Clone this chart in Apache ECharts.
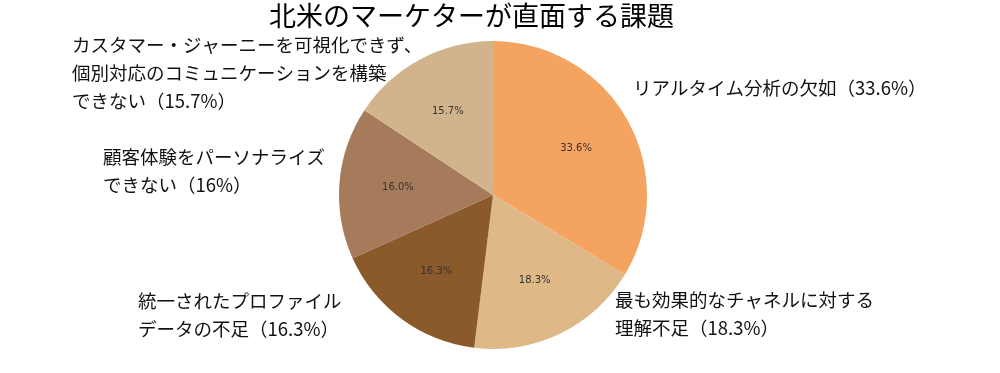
<!DOCTYPE html>
<html>
<head>
<meta charset="utf-8">
<script src="https://cdn.jsdelivr.net/npm/echarts@6/dist/echarts.min.js"></script>
<style>
html,body{margin:0;padding:0;background:#fff;}
#main{width:1000px;height:373px;}
</style>
</head>
<body>
<div id="main"></div>
<script>
const titleText = '北米のマーケターが直面する課題';
const categories = [
  'リアルタイム分析の欠如（33.6%）',
  '最も効果的なチャネルに対する\n理解不足（18.3%）',
  '統一されたプロファイル\nデータの不足（16.3%）',
  '顧客体験をパーソナライズ\nできない（16%）',
  'カスタマー・ジャーニーを可視化できず、\n個別対応のコミュニケーションを構築\nできない（15.7%）'
];
const values = [33.6, 18.3, 16.3, 16.0, 15.7];
const colors = ['#F4A460', '#DEB887', '#8B5A2B', '#A67B5B', '#D2B48C'];
// left edge x, vertical centre y of each outer label
const labelAnchors = [[633, 88], [615, 314], [138, 315], [103, 171], [72, 73]];

const chart = echarts.init(document.getElementById('main'), null, {renderer: 'canvas'});
const CX = 493, CY = 195, R = 154;
const pieData = categories.map((c, i) => ({name: c, value: values[i], itemStyle: {color: colors[i]}}));

chart.setOption({
  backgroundColor: '#ffffff',
  animation: false,
  title: {
    text: titleText,
    left: 269,
    top: 2,
    padding: 0,
    textStyle: {fontFamily: 'Noto Sans CJK JP', fontSize: 27, fontWeight: 'normal', color: '#000', lineHeight: 28}
  },
  series: [
    {
      type: 'pie',
      center: [CX, CY],
      radius: [0, R],
      startAngle: 90,
      clockwise: true,
      avoidLabelOverlap: false,
      silent: true,
      data: pieData,
      label: {
        show: true,
        position: 'outside',
        formatter: p => p.name,
        fontFamily: 'Noto Sans CJK JP',
        fontSize: 18.5,
        lineHeight: 28,
        color: '#111'
      },
      labelLine: {show: false},
      labelLayout: function (params) {
        const a = labelAnchors[params.dataIndex];
        return {x: a[0], y: a[1], align: 'left', verticalAlign: 'middle'};
      }
    },
    {
      type: 'pie',
      center: [CX, CY],
      radius: [R * 0.6 - 8, R * 0.6 + 8],
      startAngle: 90,
      clockwise: true,
      silent: true,
      avoidLabelOverlap: false,
      data: categories.map((c, i) => ({name: c, value: values[i]})),
      itemStyle: {color: 'rgba(0,0,0,0)'},
      label: {
        show: true,
        position: 'inside',
        formatter: p => values[p.dataIndex].toFixed(1) + '%',
        fontFamily: 'DejaVu Sans',
        fontSize: 10,
        color: '#333'
      },
      labelLine: {show: false}
    }
  ]
});
</script>
</body>
</html>
